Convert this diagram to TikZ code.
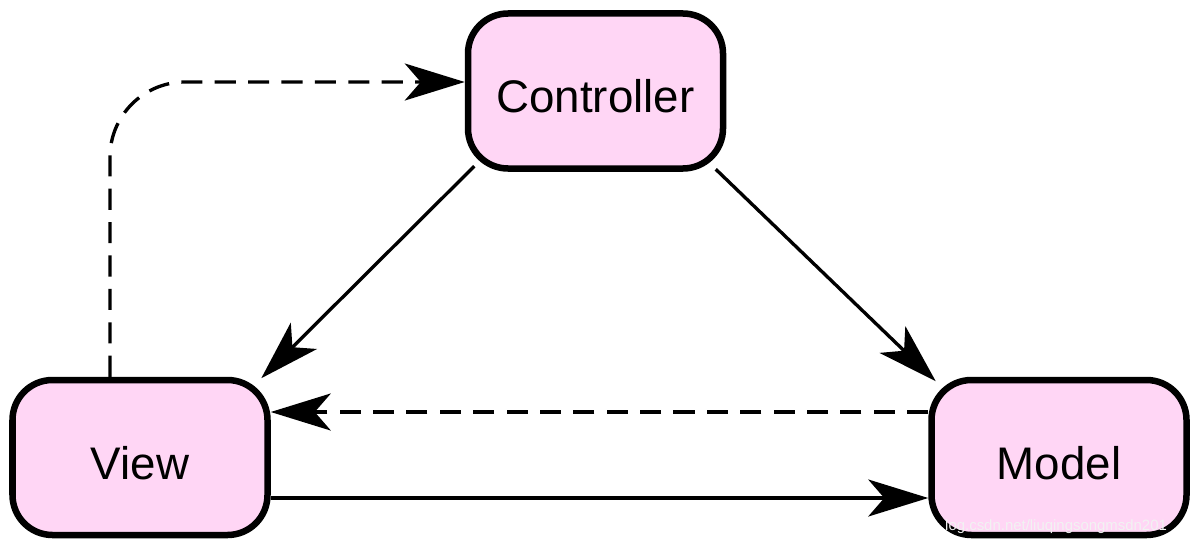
\documentclass[tikz,border=0pt]{standalone}
\usepackage{fontspec}
\setmainfont{Liberation Sans}
\usetikzlibrary{arrows.meta}
\definecolor{boxpink}{RGB}{255,214,245}

\begin{document}
\begin{tikzpicture}[
        part/.style={draw, fill=boxpink, line width=3.7pt, rounded corners=0.8cm,
            minimum width=5.1cm, minimum height=3.1cm, text height=25pt, text depth=0pt,
            font=\fontsize{26}{30}\selectfont},
        arr/.style={line width=1.9pt, -{Stealth[length=1.2cm, width=0.74cm, inset=0.32cm]}},
        dasharr/.style={arr, dash pattern=on 12pt off 7pt}
    ]
            \useasboundingbox (0, 0) rectangle (24, 10.96);
            \node[part] (ctrl) at (11.91, 9.14) {Controller};
            \node[part] (view) at (2.8, 1.81) {View};
            \node[part] (model) at (21.18, 1.81) {Model};
            \draw[arr] ([shift={(0.19, 0.11)}]ctrl.south west) -- ([shift={(-0.19, -0.03)}]view.north east);
            \draw[arr] ([shift={(-0.21, 0.05)}]ctrl.south east) -- ([shift={(0.15, -0.09)}]model.north west);
            \draw[arr] ([yshift=-0.81cm]view.east) -- ([yshift=-0.81cm]model.west);
            \draw[dasharr] ([yshift=0.91cm]model.west) -- ([yshift=0.91cm]view.east);
            \draw[dasharr, rounded corners=1.5cm] ([xshift=-0.6cm]view.north) |- ([yshift=0.18cm]ctrl.west);
            \node[anchor=west, text=white!90!gray, font=\fontsize{8.5}{10}\selectfont] (wmark) at (18.78, 0.42) {log.csdn.net/liuqingsongmsdn201};
        \end{tikzpicture}
\end{document}
